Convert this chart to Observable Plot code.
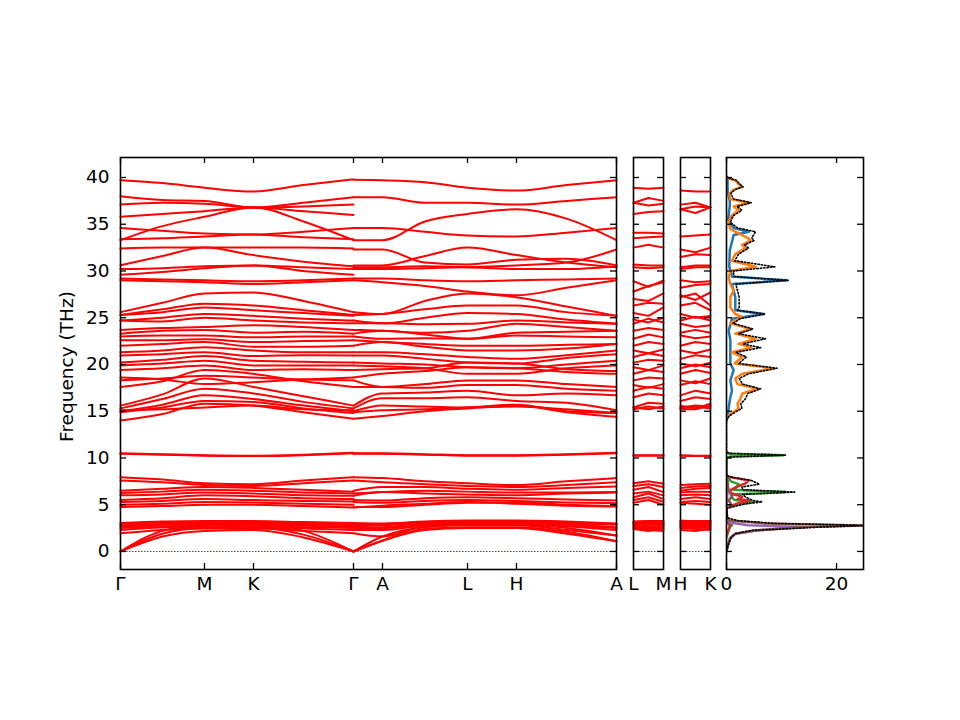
<!DOCTYPE html>
<html><head><meta charset="utf-8">
<script src="https://cdn.jsdelivr.net/npm/d3@7"></script>
<script src="https://cdn.jsdelivr.net/npm/@observablehq/plot@0.6"></script>
<style>
body{margin:0;background:#fff}
#fig{position:relative;width:960px;height:720px;background:#fff;overflow:hidden}
#fig svg{position:absolute;top:0}
</style>
</head><body><div id="fig"></div>
<script>
// ---------- axis / tick data ----------
const yTicks = [0, 5, 10, 15, 20, 25, 30, 35, 40];
const yDomain = [-1.93, 42.14];
const pathTicks = [0, 84, 133, 233, 262, 347, 396, 496];
const pathLabels = ["Γ", "M", "K", "Γ", "A", "L", "H", "A"];
// node positions along the paths (k-distance units)
const posGMKG = [0, 42, 84, 133, 183, 233];          // Γ, ½ΓM, M, K, ½KΓ, Γ
const posGALHA = [233, 262, 304.5, 347, 396, 446, 496]; // Γ, A, ½AL, L, H, ½HA, A
const posLM = [0, 15, 30];
const posHK = [0, 15, 30];
const lmLabels = ["L", "M"];
const hkLabels = ["H", "K"];
const dosTicks = [0, 20];

// ---------- band frequencies (THz) ----------
const bandsGMKG = [
  [0, 1.6, 2.2, 2.3, 1.5, 0],
  [0, 1.9, 2.5, 2.6, 1.8, 0],
  [0, 2.2, 2.8, 2.9, 2.2, 0],
  [3.05, 3.2, 3.25, 3.25, 3.15, 3.05],
  [2.95, 3.1, 3.15, 3.1, 3.0, 2.9],
  [2.8, 2.95, 3.05, 3.0, 2.9, 2.8],
  [2.65, 2.85, 2.9, 2.85, 2.75, 2.65],
  [2.5, 2.7, 2.75, 2.7, 2.6, 2.5],
  [2.3, 2.55, 2.6, 2.55, 2.45, 2.3],
  [1.95, 2.3, 2.45, 2.45, 2.2, 1.95],
  [7.95, 7.7, 7.3, 7.2, 7.6, 7.95],
  [7.6, 7.4, 7.1, 7.0, 7.3, 7.6],
  [6.5, 6.7, 6.9, 6.8, 6.6, 6.4],
  [6.25, 6.4, 6.6, 6.5, 6.3, 6.2],
  [6.0, 6.1, 6.3, 6.2, 6.0, 5.95],
  [5.5, 5.7, 6.0, 5.9, 5.7, 5.6],
  [5.3, 5.4, 5.6, 5.5, 5.4, 5.35],
  [5.0, 5.1, 5.3, 5.25, 5.1, 5.0],
  [4.75, 4.85, 5.0, 5.0, 4.85, 4.7],
  [10.5, 10.4, 10.3, 10.25, 10.35, 10.55],
  [10.45, 10.35, 10.25, 10.2, 10.3, 10.5],
  [25.6, 26.6, 27.6, 27.7, 26.8, 25.6],
  [25.3, 25.9, 26.5, 26.3, 25.8, 25.3],
  [25.3, 25.6, 26.1, 25.8, 25.5, 25.2],
  [24.7, 25.0, 25.4, 25.2, 24.9, 24.7],
  [24.7, 24.6, 25.0, 24.7, 24.5, 24.4],
  [23.7, 23.9, 24.0, 24.2, 24.0, 23.7],
  [23.3, 23.6, 23.7, 23.4, 23.5, 23.3],
  [23.0, 23.1, 23.1, 22.9, 23.0, 23.0],
  [22.6, 22.6, 22.7, 22.4, 22.5, 22.6],
  [22.0, 22.2, 22.4, 21.9, 21.9, 22.0],
  [21.3, 21.5, 21.85, 21.5, 21.3, 21.3],
  [20.96, 21.1, 21.3, 20.9, 21.0, 20.96],
  [20.2, 20.5, 20.9, 20.4, 20.3, 20.2],
  [19.9, 20.1, 20.4, 19.9, 19.9, 19.9],
  [19.4, 19.6, 19.9, 19.4, 19.5, 19.4],
  [18.6, 18.4, 17.9, 18.1, 18.4, 18.6],
  [18.3, 18.5, 18.8, 18.6, 18.4, 18.3],
  [17.6, 18.2, 19.4, 19.0, 18.2, 17.6],
  [15.6, 16.8, 18.5, 17.6, 16.6, 15.6],
  [15.3, 16.3, 17.4, 16.9, 16.0, 15.3],
  [15.0, 15.7, 16.7, 16.3, 15.6, 15.0],
  [14.9, 15.4, 16.1, 16.0, 15.3, 14.8],
  [14.0, 14.7, 15.8, 15.6, 14.9, 14.2],
  [15.1, 15.2, 15.4, 15.6, 15.2, 15.1],
  [39.7, 39.4, 38.9, 38.5, 39.2, 39.8],
  [38.0, 37.6, 37.5, 36.8, 37.3, 37.9],
  [37.1, 37.3, 37.2, 36.8, 36.9, 37.1],
  [35.8, 36.1, 36.4, 36.8, 36.4, 36.0],
  [33.3, 34.8, 35.8, 36.8, 35.3, 33.3],
  [34.6, 34.3, 34.0, 33.9, 34.2, 34.6],
  [33.4, 33.5, 33.7, 33.9, 33.6, 33.4],
  [32.4, 32.5, 32.5, 32.5, 32.5, 32.4],
  [30.6, 31.6, 32.5, 31.7, 31.0, 30.5],
  [30.2, 30.3, 30.5, 30.6, 30.4, 30.2],
  [29.6, 29.9, 30.3, 30.6, 30.0, 29.6],
  [29.2, 29.1, 29.0, 28.9, 29.0, 29.2],
  [29.0, 28.9, 28.8, 28.6, 28.8, 29.0]
];

const bandsGALHA = [
  [0, 1.15, 2.3, 2.5, 2.5, 1.9, 1.1],
  [0, 1.15, 2.4, 2.6, 2.6, 2.1, 1.1],
  [0, 1.6, 2.6, 2.8, 2.8, 2.3, 1.7],
  [1.95, 1.6, 2.7, 2.9, 2.9, 2.5, 1.7],
  [2.3, 2.3, 2.8, 3.0, 3.0, 2.7, 2.3],
  [2.5, 2.5, 2.9, 3.1, 3.1, 2.8, 2.5],
  [2.65, 2.6, 3.0, 3.15, 3.15, 2.95, 2.6],
  [2.8, 2.8, 3.1, 3.2, 3.2, 3.05, 2.85],
  [2.95, 2.95, 3.15, 3.25, 3.25, 3.1, 2.95],
  [3.05, 3.0, 3.2, 3.3, 3.3, 3.2, 3.0],
  [7.95, 7.85, 7.5, 7.3, 7.1, 7.5, 7.85],
  [7.6, 7.4, 7.2, 7.0, 6.9, 7.1, 7.4],
  [6.5, 6.9, 6.9, 6.7, 6.6, 6.8, 6.95],
  [6.2, 6.35, 6.5, 6.4, 6.3, 6.3, 6.35],
  [5.95, 6.35, 6.2, 6.1, 6.0, 6.2, 6.3],
  [5.5, 5.45, 5.7, 5.8, 5.7, 5.55, 5.45],
  [5.3, 5.2, 5.4, 5.5, 5.4, 5.25, 5.15],
  [4.75, 4.75, 5.0, 5.2, 5.25, 5.0, 4.85],
  [4.7, 4.9, 5.1, 5.3, 5.1, 4.9, 4.8],
  [10.5, 10.5, 10.4, 10.3, 10.3, 10.4, 10.55],
  [10.45, 10.45, 10.35, 10.25, 10.25, 10.35, 10.5],
  [29.0, 28.8, 28.4, 27.8, 27.4, 28.2, 29.0],
  [25.6, 25.4, 26.8, 27.6, 27.2, 26.2, 25.2],
  [25.3, 25.4, 25.9, 26.3, 26.3, 25.6, 25.2],
  [24.7, 24.4, 25.0, 25.5, 25.4, 24.8, 24.35],
  [24.4, 24.4, 24.3, 24.35, 24.7, 24.5, 24.35],
  [23.7, 23.6, 23.4, 23.6, 24.35, 24.0, 23.6],
  [23.3, 23.6, 23.2, 22.75, 23.4, 23.5, 23.6],
  [23.0, 22.75, 22.8, 22.75, 23.1, 23.0, 22.9],
  [22.6, 22.4, 22.2, 22.0, 22.0, 22.1, 22.2],
  [22.0, 22.4, 21.9, 21.5, 21.5, 21.7, 22.2],
  [21.3, 21.3, 21.1, 20.8, 20.6, 21.0, 21.5],
  [20.96, 20.96, 20.6, 20.2, 20.1, 20.7, 21.1],
  [20.2, 20.1, 20.0, 19.7, 19.6, 20.0, 20.4],
  [19.9, 19.8, 19.6, 19.0, 19.0, 19.6, 19.9],
  [19.4, 19.5, 19.6, 20.2, 20.1, 19.5, 19.3],
  [18.6, 19.0, 19.3, 19.7, 19.6, 19.2, 19.0],
  [18.3, 17.6, 17.9, 18.3, 18.3, 17.9, 17.6],
  [17.6, 17.6, 17.5, 17.8, 17.8, 17.4, 17.2],
  [15.6, 16.9, 17.0, 17.2, 16.7, 16.9, 16.7],
  [15.3, 16.4, 16.4, 16.5, 16.1, 15.9, 15.1],
  [15.0, 15.6, 15.5, 15.4, 15.5, 15.2, 14.8],
  [14.9, 15.1, 15.2, 15.4, 15.7, 15.0, 14.8],
  [14.2, 14.5, 15.0, 15.3, 15.6, 14.9, 14.4],
  [39.75, 39.7, 39.5, 38.9, 38.6, 39.2, 39.7],
  [37.9, 37.9, 37.3, 37.3, 37.1, 37.5, 37.9],
  [34.6, 34.6, 34.2, 33.8, 33.7, 34.1, 34.6],
  [33.3, 33.3, 35.3, 36.1, 36.6, 35.6, 33.3],
  [32.3, 32.3, 30.9, 30.7, 31.2, 31.3, 30.6],
  [30.6, 30.6, 31.6, 32.5, 31.7, 30.9, 30.4],
  [30.4, 30.4, 30.5, 30.4, 30.2, 30.2, 30.5],
  [30.2, 30.2, 30.3, 30.4, 30.6, 30.9, 32.3],
  [29.2, 29.2, 29.0, 28.9, 29.0, 29.1, 29.2]
];

const bandsLM = [
  [38.9, 38.8, 38.9], [37.3, 37.8, 37.5], [37.3, 37.0, 37.2], [36.1, 36.3, 36.4],
  [34.1, 34.1, 34.0], [33.5, 33.6, 33.7], [32.5, 32.8, 32.5], [30.7, 30.6, 30.6],
  [30.4, 30.3, 30.4], [28.9, 28.3, 29.0], [27.8, 28.4, 28.8], [27.0, 26.8, 27.6],
  [26.3, 26.6, 26.5], [25.5, 25.2, 26.1], [24.35, 24.9, 24.5], [24.8, 24.5, 25.0],
  [23.6, 23.9, 23.7], [22.75, 23.2, 22.9], [22.0, 22.4, 22.2], [21.5, 21.2, 21.6],
  [20.8, 21.2, 20.9], [20.2, 20.5, 20.4], [19.7, 19.4, 19.9], [19.0, 19.4, 19.2],
  [18.3, 18.6, 18.5], [17.8, 17.5, 17.9], [17.2, 17.6, 17.4], [16.5, 16.9, 16.7],
  [15.4, 15.9, 15.8], [15.4, 15.2, 15.5], [15.2, 15.5, 15.3],
  [10.3, 10.3, 10.3], [10.25, 10.25, 10.25],
  [7.3, 7.5, 7.24], [7.0, 7.2, 6.9], [6.6, 6.9, 6.35], [6.2, 6.4, 6.0],
  [5.8, 6.2, 5.6], [5.5, 5.8, 5.3], [5.2, 5.5, 5.0],
  [2.5, 2.3, 2.2], [2.6, 2.4, 2.5], [2.8, 2.6, 2.8], [2.9, 2.8, 2.95],
  [3.0, 3.0, 3.05], [3.1, 3.15, 3.15], [3.2, 3.25, 3.25], [2.7, 2.5, 2.6],
  [3.15, 3.2, 2.9], [2.4, 2.2, 2.45]
];

const bandsHK = [
  [38.6, 38.5, 38.5], [37.1, 37.3, 36.8], [36.6, 36.9, 36.8], [36.6, 36.2, 36.8],
  [33.7, 33.8, 33.9], [32.3, 32.0, 32.5], [31.5, 31.8, 31.7], [30.4, 30.6, 30.6],
  [30.2, 30.4, 30.4], [29.0, 28.8, 28.9], [28.2, 28.5, 28.6], [27.4, 26.9, 27.7],
  [27.2, 27.6, 26.3], [26.3, 26.6, 25.8], [25.4, 25.0, 25.2], [24.7, 25.1, 24.7],
  [24.35, 24.0, 24.2], [23.4, 23.7, 23.4], [23.1, 22.8, 23.0], [22.0, 22.4, 22.2],
  [21.5, 21.2, 21.6], [20.6, 21.0, 20.8], [20.1, 19.8, 20.2], [19.6, 20.0, 19.7],
  [19.0, 19.4, 19.1], [18.3, 18.0, 18.5], [17.8, 18.2, 17.9], [16.7, 17.2, 16.9],
  [16.1, 16.5, 16.3], [15.6, 15.3, 15.8], [15.4, 15.6, 15.5], [15.3, 15.5, 15.3],
  [15.2, 15.2, 15.6],
  [10.3, 10.25, 10.25], [10.25, 10.2, 10.2],
  [7.1, 7.2, 7.24], [6.8, 6.95, 7.0], [6.5, 6.7, 6.8], [6.3, 6.4, 6.35],
  [6.0, 6.1, 6.0], [5.6, 5.8, 5.6], [5.3, 5.4, 5.3], [5.2, 5.1, 5.0],
  [2.5, 2.4, 2.3], [2.6, 2.5, 2.6], [2.8, 2.7, 2.8], [2.9, 2.85, 2.95],
  [3.0, 3.05, 3.05], [3.1, 3.15, 3.15], [3.2, 3.25, 3.25], [2.7, 2.6, 2.7],
  [3.3, 3.2, 3.25], [2.3, 2.2, 2.45]
];

// ---------- projected DOS: [frequency THz, DOS] ----------
const pdosBlue = [[14.0,0],[14.7,0.3],[15.4,0.4],[16.5,0.7],[17.2,1.0],[18.3,0.7],[19.4,1.3],[20.1,0.7],[21.5,0.7],[22.6,0.7],[23.6,0.4],[24.9,1.0],[25.4,6.8],[25.8,1.6],[26.1,1.6],[27.2,1.6],[28.6,1.0],[29.0,11.0],[29.4,1.0],[30.5,0.5],[32.2,0.6],[33.85,1.3],[34.2,4.1],[34.6,1.3],[35.5,0.3],[37.0,0.6],[37.5,0.6],[38.5,0.2],[39.8,0.2],[40.1,0]];
const pdosOrange = [[14.0,0],[14.5,0.3],[14.9,1.2],[15.3,2.2],[15.8,2.0],[16.3,2.5],[16.9,2.9],[17.4,5.6],[17.9,2.0],[18.5,1.6],[19.0,2.85],[19.6,8.6],[20.1,1.5],[20.8,2.85],[21.3,1.0],[21.8,4.5],[22.2,2.2],[22.75,5.3],[23.3,1.6],[23.8,4.4],[24.4,0.7],[25.1,2.85],[25.4,1.6],[26.1,0.7],[27.2,0.7],[27.9,1.3],[28.6,0.7],[29.3,0.4],[30.0,0.7],[30.45,5.3],[31.1,1.0],[31.8,1.6],[32.45,3.45],[32.8,2.85],[33.26,4.4],[33.55,3.8],[34.2,1.6],[34.5,0.7],[35.2,0.4],[35.9,0.9],[36.5,2.2],[36.9,1.3],[37.3,4.1],[37.7,0.7],[38.3,0.55],[38.7,1.3],[39.0,2.85],[39.3,2.2],[39.7,1.6],[39.9,0.4],[40.1,0]];
const pdosGreen = [[1.5,0],[2.6,0.6],[2.8,1.0],[3.0,0.4],[3.3,0],[4.7,0],[4.9,0.6],[5.3,5.0],[5.5,1.5],[5.8,0.9],[6.1,1.2],[6.35,10.7],[6.6,1.2],[6.9,1.8],[7.2,2.2],[7.5,0.8],[7.95,0.3],[8.1,0],[10.0,0],[10.15,0.6],[10.3,10.4],[10.45,0.6],[10.6,0]];
const pdosRed = [[1.8,0],[2.5,0.5],[2.8,0.6],[3.2,0],[4.7,0],[4.75,0.4],[5.1,1.9],[5.45,4.1],[5.6,2.0],[5.85,2.85],[6.2,1.0],[6.5,0.5],[6.9,1.9],[7.3,3.5],[7.6,4.1],[7.95,0.6],[8.1,0]];
const pdosPurple = [[0,0],[0.3,0.1],[1.0,0.4],[1.5,0.7],[1.9,1.6],[2.25,5.3],[2.6,14.4],[2.8,4.0],[3.1,0.5],[3.4,0],[5.0,0],[6.3,0.2],[7.0,0]];
const pdosBrown = [[0,0],[0.5,0.2],[1.35,0.6],[1.9,1.6],[2.25,5.3],[2.6,13.0],[2.78,24.7],[3.0,7.1],[3.3,0.6],[3.6,0],[4.7,0],[5.0,0.9],[5.45,0.4],[5.9,1.0],[6.35,0.6],[6.8,0.3],[7.6,0.2],[8.0,0]];
const dosTotal = [[0,0],[0.5,0.2],[1.0,0.5],[1.5,0.9],[1.9,1.6],[2.25,4.5],[2.6,17],[2.78,26],[3.0,9],[3.3,2.0],[3.6,0.2],[4.6,0.1],[4.75,1.0],[5.1,3.5],[5.3,6.5],[5.45,4.8],[5.8,3.5],[6.1,3.0],[6.35,12.4],[6.6,3.0],[6.9,2.8],[7.2,6.0],[7.6,4.5],[7.95,1.0],[8.1,0],[10.0,0],[10.1,0.5],[10.3,10.7],[10.5,0.5],[10.6,0],[14.0,0],[14.5,0.5],[14.9,1.6],[15.3,2.8],[15.8,2.6],[16.3,3.4],[16.9,3.9],[17.4,6.2],[17.9,2.9],[18.5,2.3],[19.0,4.0],[19.6,9.2],[20.1,2.2],[20.8,3.6],[21.3,1.7],[21.8,6.2],[22.2,3.0],[22.75,7.1],[23.3,2.2],[23.8,4.8],[24.4,1.2],[24.9,2.5],[25.4,7.0],[25.8,2.0],[26.1,2.3],[27.2,2.3],[27.9,2.0],[28.6,1.7],[29.0,11.2],[29.4,1.4],[30.0,1.2],[30.45,8.8],[31.1,1.5],[31.8,2.2],[32.45,4.0],[32.8,3.3],[33.26,5.0],[33.55,4.6],[34.2,5.3],[34.6,2.0],[35.2,0.7],[35.9,1.2],[36.5,2.8],[36.9,1.9],[37.3,4.5],[37.7,1.3],[38.3,0.8],[38.7,1.5],[39.0,3.0],[39.3,2.4],[39.7,1.8],[39.9,0.6],[40.1,0]];

// ---------- drawing ----------
const H = 720, MT = 157, MB = 151, PH = H - MT - MB;
const FONT = "DejaVu Sans";
const FS = 18.5;
const TL = 6; // inward tick length
const fig = document.getElementById("fig");

function tidy(bands, pos, tag) {
  const out = [];
  bands.forEach((b, i) => b.forEach((v, j) => out.push({k: pos[j], f: v, id: tag + i})));
  return out;
}

function inwardY(pw) {
  return [
    Plot.tickY(yTicks, {y: d => d, insetRight: pw - TL, stroke: "black", strokeWidth: 1.3}),
    Plot.tickY(yTicks, {y: d => d, insetLeft: pw - TL, stroke: "black", strokeWidth: 1.3})
  ];
}
function inwardX(ticks) {
  return [
    Plot.tickX(ticks, {x: d => d, insetTop: PH - TL, stroke: "black", strokeWidth: 1.3}),
    Plot.tickX(ticks, {x: d => d, insetBottom: PH - TL, stroke: "black", strokeWidth: 1.3})
  ];
}
function xLabels(ticks, labels) {
  return Plot.text(ticks, {x: d => d, text: (d, i) => labels[i], frameAnchor: "bottom", dy: 15, fontSize: FS, fill: "black", lineAnchor: "middle"});
}
function zeroLine() {
  return Plot.ruleY([0], {stroke: "#3b3bff", strokeWidth: 1.1, strokeDasharray: "1.5,1.5"});
}
function place(svg, left) {
  svg.style.left = left + "px";
  fig.appendChild(svg);
}
const baseStyle = {fontFamily: FONT, fontSize: FS + "px", overflow: "visible", background: "transparent"};

// Panel 1: Γ-M-K-Γ-A-L-H-A
{
  const ml = 120, mr = 4, w = 620, pw = w - ml - mr;
  const data = tidy(bandsGMKG, posGMKG, "a").concat(tidy(bandsGALHA, posGALHA, "b"));
  const svg = Plot.plot({
    width: w, height: H, marginLeft: ml, marginRight: mr, marginTop: MT, marginBottom: MB,
    style: baseStyle,
    x: {domain: [0, 496], axis: null},
    y: {domain: yDomain, axis: null},
    marks: [
      zeroLine(),
      Plot.line(data, {x: "k", y: "f", z: "id", stroke: "red", strokeWidth: 2, curve: "monotone-x"}),
      ...inwardY(pw),
      ...inwardX(pathTicks),
      Plot.frame({stroke: "black", strokeWidth: 1.6}),
      Plot.text(yTicks, {y: d => d, text: d => String(d), frameAnchor: "left", textAnchor: "end", dx: -11, fontSize: FS, fill: "black"}),
      xLabels(pathTicks, pathLabels),
      Plot.text(["Frequency (THz)"], {text: d => d, frameAnchor: "left", textAnchor: "middle", rotate: -90, dx: -53, dy: 3, fontSize: FS, fill: "black"})
    ]
  });
  place(svg, 0);
}

// Panels 2 and 3: L-M and H-K
function smallPanel(bands, pos, labels, left, tag) {
  const ml = 10, mr = 10, w = 50, pw = w - ml - mr;
  const svg = Plot.plot({
    width: w, height: H, marginLeft: ml, marginRight: mr, marginTop: MT, marginBottom: MB,
    style: baseStyle,
    x: {domain: [0, 30], axis: null},
    y: {domain: yDomain, axis: null},
    marks: [
      zeroLine(),
      Plot.line(tidy(bands, pos, tag), {x: "k", y: "f", z: "id", stroke: "red", strokeWidth: 2, curve: "linear"}),
      ...inwardY(pw),
      Plot.frame({stroke: "black", strokeWidth: 1.6}),
      xLabels([0, 30], labels)
    ]
  });
  place(svg, left);
}
smallPanel(bandsLM, posLM, lmLabels, 623, "c");
smallPanel(bandsHK, posHK, hkLabels, 670, "d");

// Panel 4: DOS
{
  const ml = 10, mr = 10, w = 157, pw = w - ml - mr;
  const series = [
    [pdosBlue, "#1f77b4"], [pdosOrange, "#ff7f0e"], [pdosGreen, "#2ca02c"],
    [pdosRed, "#d62728"], [pdosPurple, "#9467bd"], [pdosBrown, "#8c564b"]
  ];
  const svg = Plot.plot({
    width: w, height: H, marginLeft: ml, marginRight: mr, marginTop: MT, marginBottom: MB,
    style: baseStyle,
    x: {domain: [0, 24.9], axis: null},
    y: {domain: yDomain, axis: null},
    marks: [
      ...series.map(([d, c]) => Plot.line(d, {x: p => p[1], y: p => p[0], stroke: c, strokeWidth: 2.5, clip: true})),
      Plot.line(dosTotal, {x: p => p[1], y: p => p[0], stroke: "black", strokeWidth: 1.6, strokeDasharray: "1.4,2", clip: true}),
      ...inwardY(pw),
      ...inwardX(dosTicks),
      Plot.frame({stroke: "black", strokeWidth: 1.6}),
      xLabels(dosTicks, ["0", "20"])
    ]
  });
  place(svg, 716);
}
</script>
</body></html>
